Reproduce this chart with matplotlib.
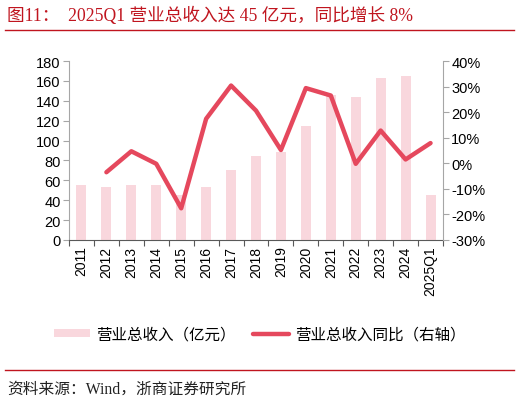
import matplotlib
matplotlib.use("Agg")
import matplotlib.pyplot as plt
from matplotlib.patches import Patch
from matplotlib.lines import Line2D
from matplotlib.ticker import FuncFormatter

categories = ["2011", "2012", "2013", "2014", "2015", "2016", "2017", "2018",
              "2019", "2020", "2021", "2022", "2023", "2024", "2025Q1"]
revenue = [55.4, 53.4, 55.4, 55.6, 45.6, 53.7, 70.2, 84.6,
           88.3, 114.8, 146.0, 144.3, 162.8, 165.0, 45.3]
yoy = [None, -3.5, 4.7, -0.2, -17.6, 17.4, 30.4, 20.6,
       5.2, 29.4, 26.5, -0.2, 12.8, 1.5, 7.9]
left_ticks = [0, 20, 40, 60, 80, 100, 120, 140, 160, 180]
right_ticks = [-30, -20, -10, 0, 10, 20, 30, 40]

title = "图11：  2025Q1 营业总收入达 45 亿元，同比增长 8%"
bar_label = "营业总收入（亿元）"
line_label = "营业总收入同比（右轴）"
source = "资料来源：Wind，浙商证券研究所"

BAR_C = "#F9D7DD"
LINE_C = "#E5485D"
RED = "#C0151F"
GRAY = "#A6A6A6"
num_font = ["Liberation Sans", "DejaVu Sans"]
cjk_font = ["Noto Sans CJK SC", "DejaVu Sans"]

W, H = 520, 402
fig = plt.figure(figsize=(W / 100, H / 100), dpi=100)

x0, x1, yt, yb = 69, 443, 62, 241
ax = fig.add_axes([x0 / W, 1 - yb / H, (x1 - x0) / W, (yb - yt) / H])
ax2 = ax.twinx()

xs = list(range(len(categories)))
ax.bar(xs, revenue, width=0.4, color=BAR_C, zorder=1)
lx = [x for x, v in zip(xs, yoy) if v is not None]
ly = [v for v in yoy if v is not None]
ax2.plot(lx, ly, color=LINE_C, lw=3.2, solid_capstyle="round", solid_joinstyle="round")

ax.set_xlim(-0.5, len(categories) - 0.5)
ax.set_ylim(0, 180)
ax2.set_ylim(-30, 40)
ax.set_yticks(left_ticks)
ax2.set_yticks(right_ticks)
ax2.yaxis.set_major_formatter(FuncFormatter(lambda v, p: f"{int(v)}%"))

ax.set_xticks(xs)
ax.set_xticklabels(categories, rotation=90, fontfamily=num_font, fontsize=10)
ax.set_xticks([i - 0.5 for i in range(len(categories) + 1)], minor=True)
ax.tick_params(axis="x", which="major", length=0, pad=4)
ax.tick_params(axis="x", which="minor", length=4, color="#595959", width=0.8)

for a in (ax, ax2):
    for s in a.spines.values():
        s.set_visible(False)
ax.spines["left"].set_visible(True)
ax.spines["left"].set_color(GRAY)
ax.spines["bottom"].set_visible(True)
ax.spines["bottom"].set_color("#595959")
ax2.spines["right"].set_visible(True)
ax2.spines["right"].set_color(GRAY)

ax.tick_params(axis="y", length=4, color=GRAY, labelsize=10.5, pad=2)
ax2.tick_params(axis="y", length=4, color=GRAY, labelsize=10.5, pad=2)
for lab in ax.get_yticklabels() + ax2.get_yticklabels():
    lab.set_fontfamily(num_font)

# Title and rules
fig.text(7 / W, 1 - 16 / H, title, color=RED, fontsize=12.7,
         family=["Liberation Serif", "Noto Sans CJK SC"], va="center", ha="left")
fig.add_artist(Line2D([5 / W, 514 / W], [1 - 31 / H, 1 - 31 / H], color=RED, lw=1))
fig.add_artist(Line2D([5 / W, 514 / W], [1 - 371 / H, 1 - 371 / H], color=RED, lw=1))
fig.text(7 / W, 1 - 390 / H, source, color="#222222", fontsize=11.3,
         family=["Liberation Serif", "Noto Sans CJK SC"], va="center", ha="left")

handles = [Patch(facecolor=BAR_C, edgecolor="none", label=bar_label),
           Line2D([], [], color=LINE_C, lw=3.2, solid_capstyle="round", label=line_label)]
fig.legend(handles=handles, loc="center", bbox_to_anchor=(0.5, 1 - 335 / H), ncol=2,
           frameon=False, prop={"family": cjk_font, "size": 11.2},
           handlelength=2.3, handleheight=0.5, columnspacing=1.1, handletextpad=0.4)

fig.savefig("out.png", dpi=100)
